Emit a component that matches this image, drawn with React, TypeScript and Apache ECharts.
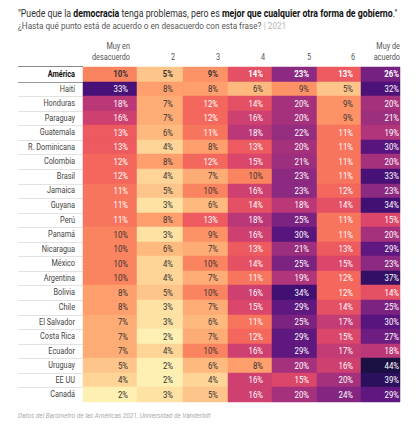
import React, { useEffect, useRef } from "react";
import * as echarts from "echarts";

// Countries, top to bottom
const countries = [
  "América", "Haití", "Honduras", "Paraguay", "Guatemala", "R. Dominicana", "Colombia",
  "Brasil", "Jamaica", "Guyana", "Perú", "Panamá", "Nicaragua", "México", "Argentina",
  "Bolivia", "Chile", "El Salvador", "Costa Rica", "Ecuador", "Uruguay", "EE UU", "Canadá",
];

// Agreement scale headers
const scaleLabels = ["Muy en\ndesacuerdo", "2", "3", "4", "5", "6", "Muy de\nacuerdo"];

// Share of respondents (%) per scale point, one array per column
const muyEnDesacuerdo = [10, 33, 18, 16, 13, 13, 12, 12, 11, 11, 11, 10, 10, 10, 10, 8, 8, 7, 7, 7, 5, 4, 2];
const nivel2 = [5, 8, 7, 7, 6, 4, 8, 4, 5, 3, 8, 3, 6, 4, 4, 5, 3, 3, 2, 4, 2, 2, 3];
const nivel3 = [9, 8, 12, 12, 11, 8, 12, 7, 10, 6, 13, 9, 7, 10, 7, 10, 7, 6, 7, 10, 6, 4, 5];
const nivel4 = [14, 6, 14, 16, 18, 13, 15, 10, 16, 14, 18, 16, 13, 14, 11, 16, 15, 11, 12, 16, 8, 16, 16];
const nivel5 = [23, 9, 20, 20, 22, 20, 21, 23, 23, 18, 25, 30, 21, 25, 19, 34, 29, 25, 29, 29, 20, 15, 20];
const nivel6 = [13, 5, 9, 9, 11, 11, 11, 11, 12, 14, 11, 11, 13, 15, 12, 12, 14, 17, 15, 17, 16, 20, 24];
const muyDeAcuerdo = [26, 32, 20, 21, 19, 30, 20, 33, 23, 34, 15, 20, 29, 23, 37, 14, 25, 30, 27, 18, 44, 39, 29];

const columns = [muyEnDesacuerdo, nivel2, nivel3, nivel4, nivel5, nivel6, muyDeAcuerdo];

// Table layout along the x axis (1 unit = 1px, 0 = left edge of the coloured cells)
const COL_EDGES = [0, 54, 100, 145, 189, 234, 278, 317];
const TEXT_RIGHT = [45, 90, 135, 180, 226, 270, 316];
const X_MIN = -65;
const X_MAX = 317;

const FONT = "Roboto, sans-serif";
// horizontal squeeze that gives the texts a condensed look
const NARROW = 0.86;

// magma, dark end first
const MAGMA = [
  "#000004", "#0b0924", "#140e36", "#251255", "#3b0f70", "#51127c", "#641a80",
  "#782281", "#8c2981", "#a1307e", "#b73779", "#ca3e72", "#de4968", "#ed5a5f",
  "#f7705c", "#fc8961", "#fe9f6d", "#feb77e", "#fecf92", "#fde7a9", "#fcfdbf",
];
// value -> position on the magma ramp
const RAMP: [number, number][] = [
  [2, 0.97], [5, 0.88], [8, 0.8], [10, 0.74], [13, 0.65], [16, 0.56],
  [20, 0.46], [25, 0.36], [30, 0.27], [35, 0.2], [44, 0.12],
];
function colorFor(v: number): string {
  let t = RAMP[0][1];
  if (v >= RAMP[RAMP.length - 1][0]) t = RAMP[RAMP.length - 1][1];
  else {
    for (let i = 0; i < RAMP.length - 1; i++) {
      const [a, ta] = RAMP[i];
      const [b, tb] = RAMP[i + 1];
      if (v >= a && v <= b) {
        t = ta + ((v - a) / (b - a)) * (tb - ta);
        break;
      }
    }
  }
  return echarts.color.lerp(t, MAGMA) as string;
}

export default function App() {
  const ref = useRef<HTMLDivElement>(null);

  useEffect(() => {
    if (!ref.current) return;
    const chart = echarts.init(ref.current, null, { renderer: "svg" });

    const cellData: number[][] = [];
    columns.forEach((col, c) => col.forEach((v, r) => cellData.push([c, r, v])));

    const option: echarts.EChartsOption = {
      animation: false,
      graphic: [
        {
          type: "text",
          left: 18,
          top: 8,
          scaleX: 0.876,
          style: {
            text:
              '{n|"Puede que la }{b|democracia}{n| tenga problemas, pero es }{b|mejor que cualquier otra forma de gobierno}{n|."}',
            fontFamily: FONT,
            rich: {
              n: { fontSize: 10, fill: "#333", fontWeight: "normal", fontFamily: FONT, lineHeight: 13 },
              b: { fontSize: 10, fill: "#111", fontWeight: "bold", fontFamily: FONT, lineHeight: 13 },
            },
          } as any,
        },
        {
          type: "text",
          left: 18,
          top: 21,
          scaleX: NARROW,
          style: {
            text: "{g|¿Hasta qué punto está de acuerdo o en desacuerdo con esta frase? }{l|| 2021}",
            fontFamily: FONT,
            rich: {
              g: { fontSize: 9.5, fill: "#555", fontWeight: "normal", fontFamily: FONT, lineHeight: 13 },
              l: { fontSize: 9.5, fill: "#b5b5b5", fontWeight: "normal", fontFamily: FONT, lineHeight: 13 },
            },
          } as any,
        },
        {
          type: "text",
          left: 18,
          top: 412,
          scaleX: NARROW,
          style: {
            text: "Datos del Barómetro de las Américas 2021, Universidad de Vanderbilt",
            fontFamily: FONT,
            fontSize: 7.5,
            fontStyle: "italic",
            fill: "#aaa",
          },
        },
      ],
      grid: { left: 18, right: 20, top: 67, height: 335 },
      xAxis: { type: "value", min: X_MIN, max: X_MAX, show: false },
      yAxis: {
        type: "category",
        data: countries,
        inverse: true,
        show: false,
      },
      series: [
        {
          // row labels and separators
          type: "custom",
          clip: false,
          silent: true,
          encode: { x: 0, y: 1 },
          data: countries.map((_, r) => [0, r]),
          renderItem: (params: any, api: any) => {
            const r = api.value(1);
            const c = api.coord([0, r]);
            const h = api.size([0, 1])[1];
            const left = api.coord([X_MIN, r])[0];
            const right = c[0];
            const top = Math.round(c[1] - h / 2);
            const bottom = Math.round(c[1] + h / 2);
            const isTotal = r === 0;
            const children: any[] = [
              {
                type: "text",
                x: api.coord([-8, r])[0],
                y: c[1],
                scaleX: NARROW,
                style: {
                  text: countries[r],
                  x: 0,
                  y: 0,
                  align: "right",
                  verticalAlign: "middle",
                  fontFamily: FONT,
                  fontSize: 8.5,
                  fontWeight: isTotal ? "bold" : "normal",
                  fill: isTotal ? "#111" : "#444",
                },
              },
            ];
            if (r < countries.length - 1) {
              children.push({
                type: "line",
                shape: { x1: left, y1: bottom + 0.5, x2: right, y2: bottom + 0.5 },
                style: { stroke: isTotal ? "#999" : "#e2e2e2", lineWidth: 1 },
              });
            }
            if (isTotal) {
              children.push({
                type: "line",
                shape: { x1: left, y1: top - 0.5, x2: right, y2: top - 0.5 },
                style: { stroke: "#888", lineWidth: 1 },
              });
            }
            return { type: "group", children };
          },
        },
        {
          // column headers
          type: "custom",
          clip: false,
          silent: true,
          encode: { x: 0, y: 1 },
          data: scaleLabels.map((_, c) => [c, 0]),
          renderItem: (params: any, api: any) => {
            const c = api.value(0);
            const p = api.coord([TEXT_RIGHT[c], 0]);
            const h = api.size([0, 1])[1];
            return {
              type: "text",
              x: c === scaleLabels.length - 1 ? api.coord([X_MAX, 0])[0] : p[0] + 2,
              y: p[1] - h / 2 - 4,
              scaleX: NARROW,
              style: {
                text: scaleLabels[c],
                x: 0,
                y: 0,
                align: "right",
                verticalAlign: "bottom",
                fontFamily: FONT,
                fontSize: 8.5,
                lineHeight: 11,
                fill: "#555",
              },
            };
          },
        },
        {
          // coloured cells with their values
          type: "custom",
          clip: false,
          encode: { x: 0, y: 1 },
          data: cellData,
          renderItem: (params: any, api: any) => {
            const c = api.value(0);
            const r = api.value(1);
            const v = api.value(2);
            const p0 = api.coord([COL_EDGES[c], r]);
            const p1 = api.coord([COL_EDGES[c + 1], r]);
            const h = api.size([0, 1])[1];
            const top = Math.round(p0[1] - h / 2);
            const bottom = Math.round(p0[1] + h / 2);
            const x0 = Math.round(p0[0]);
            const x1 = Math.round(p1[0]);
            const fill = colorFor(v);
            return {
              type: "group",
              children: [
                {
                  type: "rect",
                  shape: { x: x0, y: top, width: x1 - x0, height: bottom - top },
                  style: { fill, stroke: fill, lineWidth: 0.5 },
                },
                {
                  type: "text",
                  x: api.coord([TEXT_RIGHT[c], r])[0],
                  y: p0[1],
                  scaleX: 0.92,
                  style: {
                    text: v + "%",
                    x: 0,
                    y: 0,
                    align: "right",
                    verticalAlign: "middle",
                    fontFamily: FONT,
                    fontSize: 8.5,
                    fontWeight: r === 0 ? "bold" : "normal",
                    fill: v >= 11 ? "#fff" : "#333",
                  },
                },
              ],
            };
          },
        },
      ],
    };

    chart.setOption(option);
    return () => chart.dispose();
  }, []);

  return (
    <div
      ref={ref}
      style={{ width: 420, height: 426, position: "absolute", left: 0, top: 0, background: "#fff" }}
    />
  );
}
